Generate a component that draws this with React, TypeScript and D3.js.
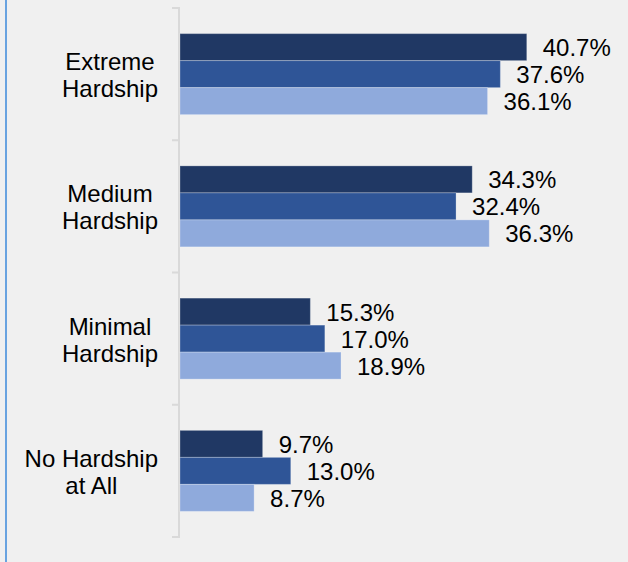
import { useRef, useEffect } from 'react';
import * as d3 from 'd3';

const categories = ['Extreme Hardship', 'Medium Hardship', 'Minimal Hardship', 'No Hardship at All'];
const categoryLines = [['Extreme', 'Hardship'], ['Medium', 'Hardship'], ['Minimal', 'Hardship'], ['No Hardship', 'at All']];
const seriesNames = ['Series 1', 'Series 2', 'Series 3'];
const series1 = [40.7, 34.3, 15.3, 9.7];
const series2 = [37.6, 32.4, 17.0, 13.0];
const series3 = [36.1, 36.3, 18.9, 8.7];
const seriesColors = ['#203864', '#2f5597', '#8faadc'];

const W = 628;
const H = 562;
const PLOT = { left: 180, right: 606, top: 8, bottom: 537 };

export default function App() {
  const svgRef = useRef<SVGSVGElement>(null);

  useEffect(() => {
    const svg = svgRef.current;
    if (!svg) return;
    const root = d3.select(svg);
    root.selectAll('*').remove();

    const values = [series1, series2, series3];
    const font = '"Liberation Sans", Arial, sans-serif';

    // background + left accent line
    root.append('rect').attr('x', 0).attr('y', 0).attr('width', W).attr('height', H).attr('fill', '#f0f0f0');
    root.append('line').attr('x1', 6).attr('x2', 6).attr('y1', 0).attr('y2', H)
      .attr('stroke', '#69a3e0').attr('stroke-width', 2);

    const y0 = d3.scaleBand().domain(categories).range([PLOT.top, PLOT.bottom])
      .paddingInner(0.3875).paddingOuter(0.19375);
    const y1 = d3.scaleBand().domain(seriesNames).range([0, y0.bandwidth()]);
    const x = d3.scaleLinear().domain([0, 50]).range([PLOT.left, PLOT.right]);

    // axis line + ticks at band boundaries
    const step = y0.step();
    root.append('line').attr('x1', 179).attr('x2', 179).attr('y1', PLOT.top).attr('y2', PLOT.bottom)
      .attr('stroke', '#d9d9d9').attr('stroke-width', 2);
    d3.range(categories.length + 1).forEach(i => {
      const ty = PLOT.top + i * step;
      root.append('line').attr('x1', 172).attr('x2', 180).attr('y1', ty).attr('y2', ty)
        .attr('stroke', '#d9d9d9').attr('stroke-width', 2);
    });

    const g = root.append('g');
    categories.forEach((c, ci) => {
      seriesNames.forEach((s, si) => {
        const v = values[si][ci];
        const by = y0(c)! + y1(s)!;
        g.append('rect')
          .attr('x', x(0)).attr('y', by)
          .attr('width', x(v) - x(0)).attr('height', y1.bandwidth())
          .attr('fill', seriesColors[si])
          .attr('stroke', 'rgba(255,255,255,0.25)').attr('stroke-width', 1);
        g.append('text')
          .attr('x', x(v) + 16).attr('y', by + y1.bandwidth() / 2 + 9)
          .attr('font-family', font).attr('font-size', 24).attr('fill', '#000')
          .text(`${v.toFixed(1)}%`);
      });
    });

    // category labels: block right-aligned at 158, lines centered in block
    categories.forEach((c, ci) => {
      const center = y0(c)! + y0.bandwidth() / 2;
      const lines = categoryLines[ci];
      const texts = lines.map((ln, li) =>
        root.append('text')
          .attr('y', center - 4 + li * 27)
          .attr('font-family', font).attr('font-size', 24).attr('fill', '#000')
          .attr('text-anchor', 'middle')
          .text(ln));
      const widths = texts.map(t => (t.node() as SVGTextElement).getComputedTextLength());
      const maxW = Math.max(...widths);
      texts.forEach(t => t.attr('x', 158 - maxW / 2));
    });
  }, []);

  return (
    <svg ref={svgRef} width={W} height={H}
      style={{ position: 'absolute', left: 0, top: 0, display: 'block' }} />
  );
}
